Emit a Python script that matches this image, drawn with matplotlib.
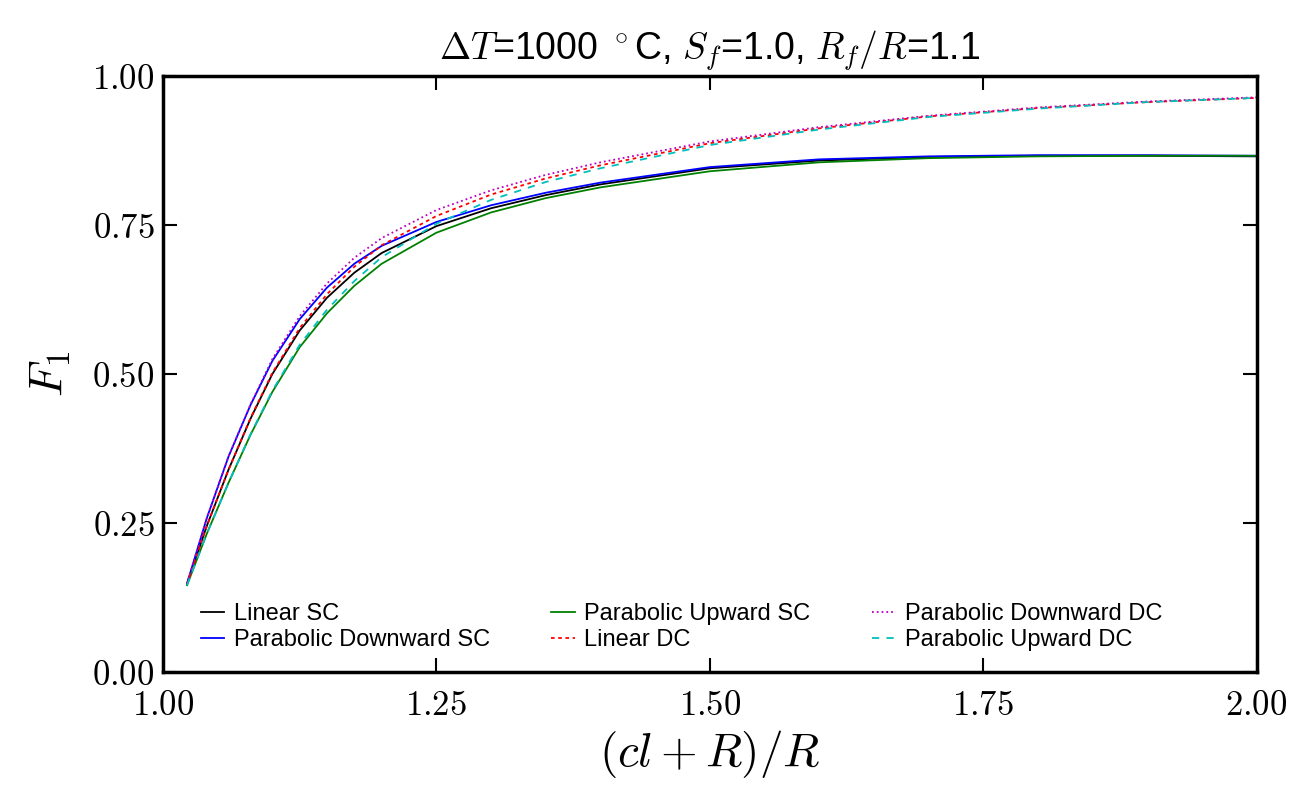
import matplotlib
matplotlib.use('Agg')
import matplotlib.pyplot as plt

plt.rcParams['mathtext.fontset'] = 'cm'
plt.rcParams['font.family'] = ['Liberation Sans', 'DejaVu Sans']

x = [1.022, 1.04, 1.06, 1.08, 1.10, 1.125, 1.15, 1.175, 1.2, 1.25,
     1.3, 1.35, 1.4, 1.5, 1.6, 1.7, 1.8, 1.9, 2.0]

linear_sc = [0.148, 0.245, 0.340, 0.425, 0.500, 0.573, 0.628, 0.670, 0.703, 0.748,
             0.778, 0.800, 0.818, 0.845, 0.858, 0.864, 0.866, 0.866, 0.865]
para_down_sc = [0.149, 0.258, 0.362, 0.448, 0.522, 0.592, 0.645, 0.685, 0.715, 0.755,
                0.783, 0.804, 0.821, 0.847, 0.860, 0.865, 0.867, 0.867, 0.866]
para_up_sc = [0.146, 0.232, 0.318, 0.398, 0.470, 0.545, 0.602, 0.648, 0.685, 0.737,
              0.771, 0.795, 0.813, 0.840, 0.855, 0.862, 0.865, 0.866, 0.866]
linear_dc = [0.148, 0.245, 0.340, 0.426, 0.502, 0.577, 0.634, 0.680, 0.716, 0.765,
             0.801, 0.828, 0.850, 0.887, 0.912, 0.932, 0.946, 0.956, 0.963]
para_down_dc = [0.149, 0.258, 0.362, 0.449, 0.525, 0.597, 0.652, 0.695, 0.728, 0.775,
                0.808, 0.834, 0.855, 0.890, 0.914, 0.933, 0.947, 0.957, 0.964]
para_up_dc = [0.146, 0.232, 0.318, 0.399, 0.472, 0.549, 0.608, 0.656, 0.696, 0.752,
              0.792, 0.822, 0.845, 0.884, 0.910, 0.931, 0.945, 0.956, 0.963]

xticks = [1.00, 1.25, 1.50, 1.75, 2.00]
yticks = [0.00, 0.25, 0.50, 0.75, 1.00]

fig = plt.figure(figsize=(13.09, 7.9), dpi=100)
ax = fig.add_axes([0.1245, 0.149, 0.8355, 0.755])

ax.plot(x, linear_sc, color='k', lw=1.3, label='Linear SC')
ax.plot(x, para_down_sc, color='b', lw=1.3, label='Parabolic Downward SC')
ax.plot(x, para_up_sc, color='g', lw=1.3, label='Parabolic Upward SC')
ax.plot(x, linear_dc, color='r', lw=1.3, ls='--', dashes=(2, 2), label='Linear DC')
ax.plot(x, para_down_dc, color='m', lw=1.3, ls=':', label='Parabolic Downward DC')
ax.plot(x, para_up_dc, color='c', lw=1.3, ls='--', dashes=(4, 4), label='Parabolic Upward DC')

ax.set_xlim(1.0, 2.0)
ax.set_ylim(0.0, 1.0)
ax.set_xticks(xticks, labels=['$%.2f$' % v for v in xticks])
ax.set_yticks(yticks, labels=['$%.2f$' % v for v in yticks])
ax.tick_params(direction='in', length=10, width=1.5, top=True, right=True,
               labelsize=25)
ax.tick_params(axis='x', pad=12)
ax.tick_params(axis='y', pad=6)
for s in ax.spines.values():
    s.set_linewidth(2.5)

ax.set_xlabel('$(cl+R)/R$', fontsize=34, labelpad=4)
ax.set_ylabel('$F_1$', fontsize=34, labelpad=14)
ax.set_title(r'$\Delta T$=1000 $^\circ$C, $S_f$=1.0, $R_f/R$=1.1', fontsize=27, pad=12)

ax.legend(loc='lower left', bbox_to_anchor=(0.026, 0.02), borderaxespad=0,
          ncol=3, frameon=False, fontsize=17, handlelength=1.0, handletextpad=0.4,
          labelspacing=0.15, columnspacing=2.6)

fig.savefig('out.png', dpi=100)
